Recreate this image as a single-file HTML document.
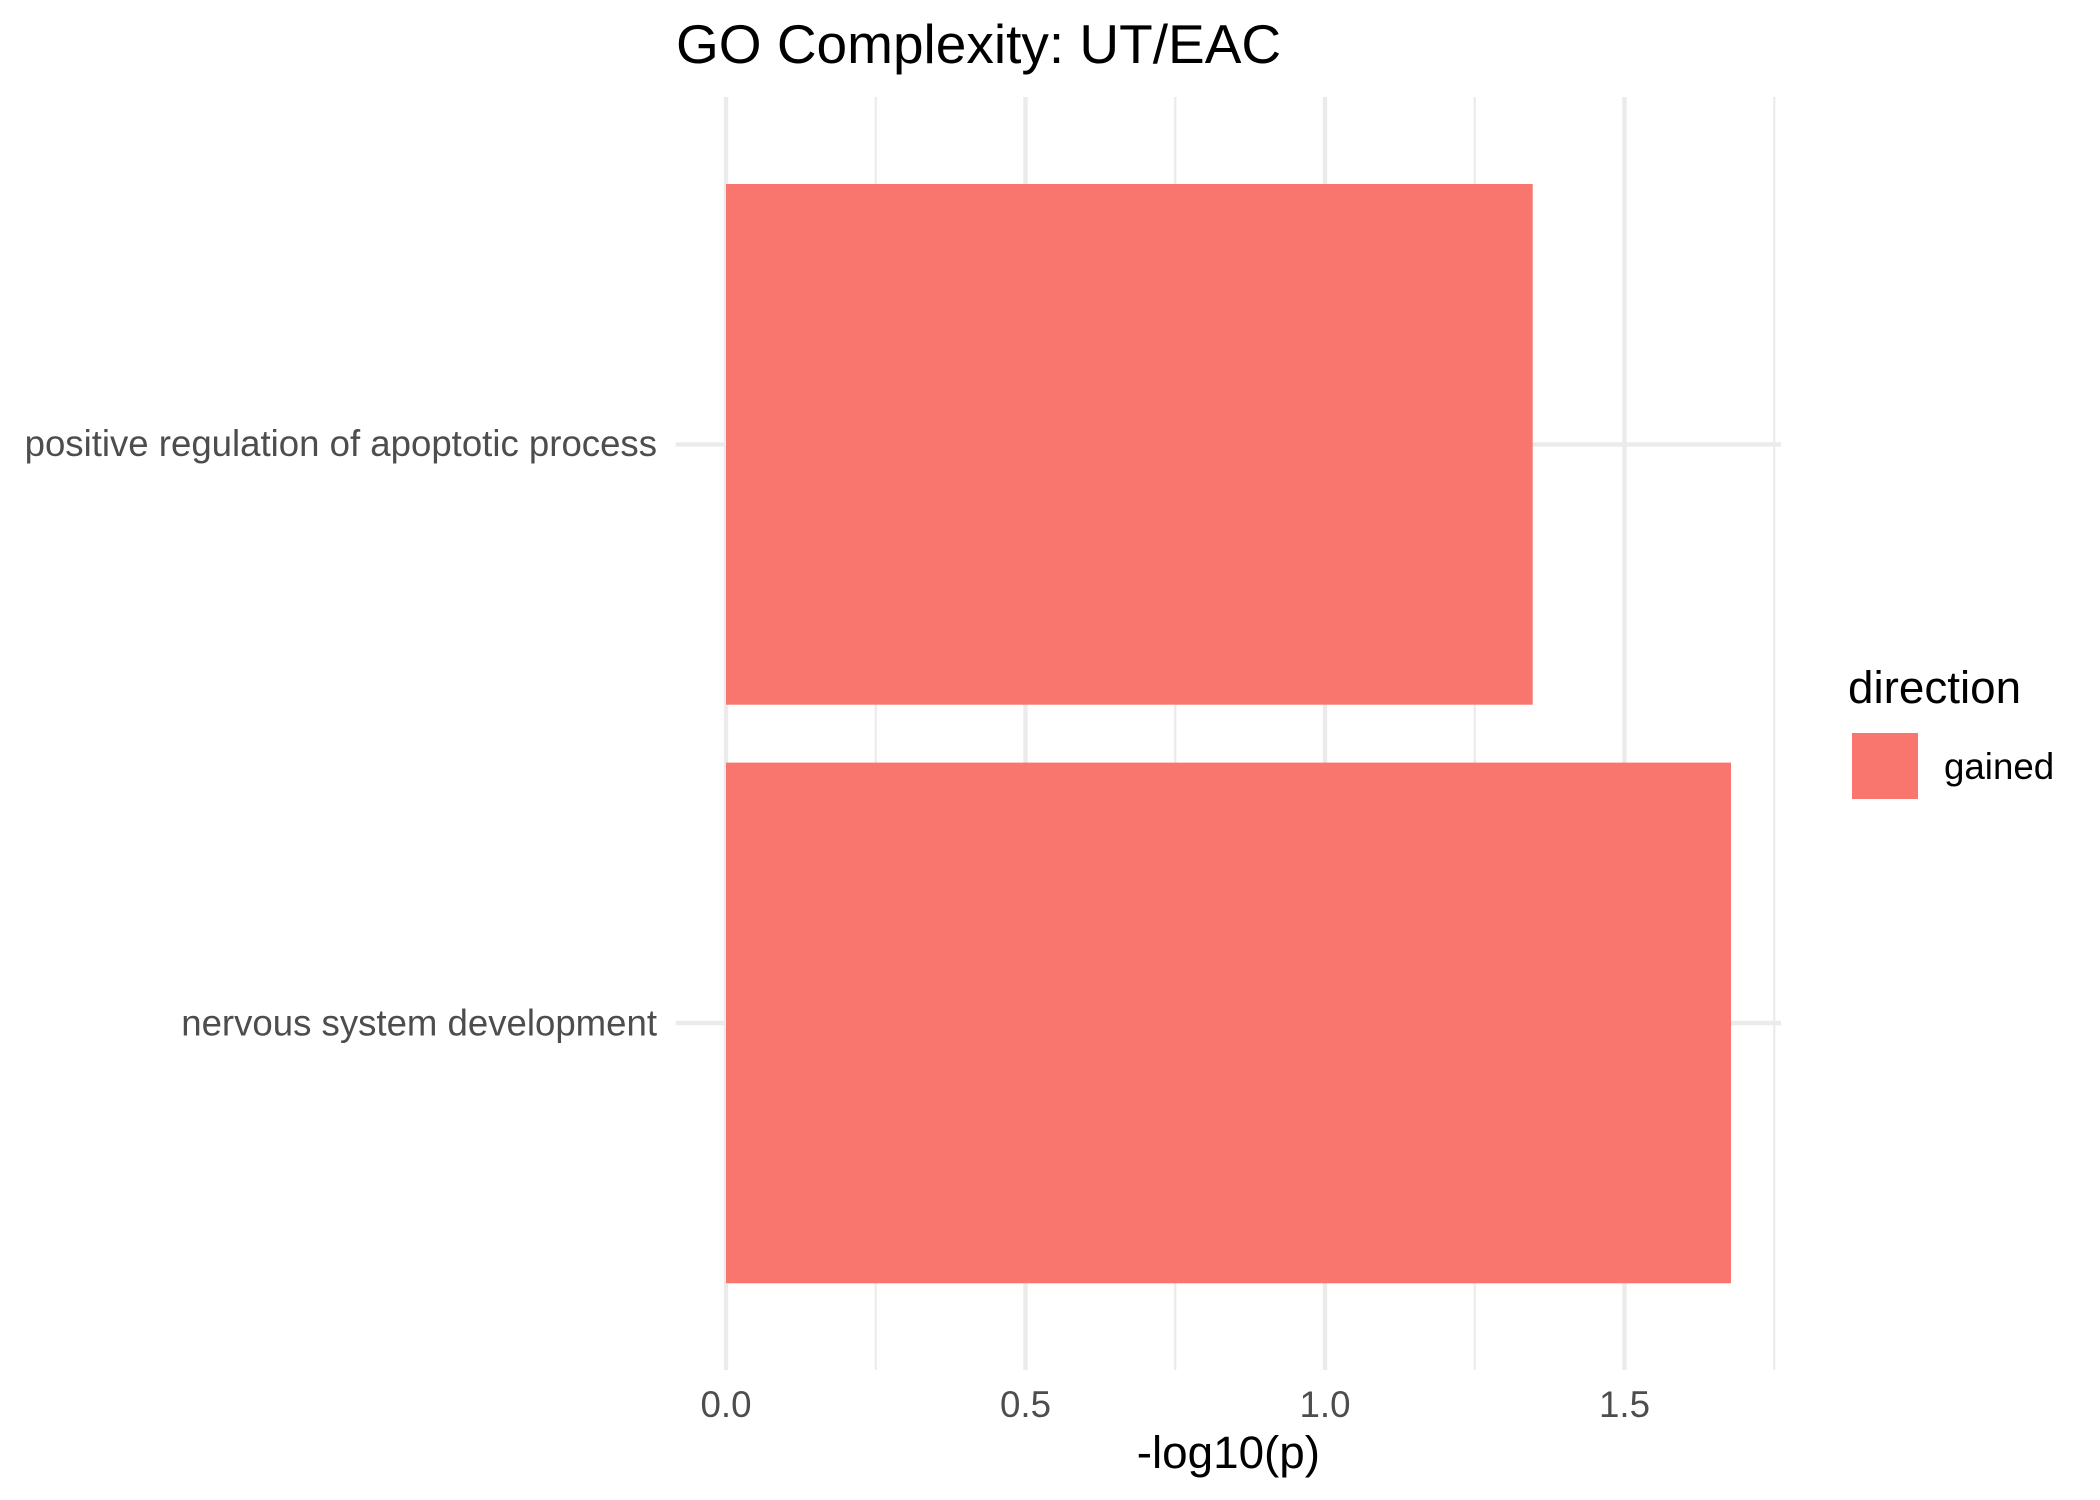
<!DOCTYPE html>
<html>
<head>
<meta charset="utf-8">
<style>
  html, body { margin: 0; padding: 0; background: #ffffff; }
  svg { display: block; }
  text { font-family: "Liberation Sans", Arial, sans-serif; }
</style>
</head>
<body>
<svg width="2100" height="1500" viewBox="0 0 2100 1500" xmlns="http://www.w3.org/2000/svg">
  <rect x="0" y="0" width="2100" height="1500" fill="#ffffff"/>

  <!-- minor vertical gridlines -->
  <g stroke="#EBEBEB" stroke-width="2.2">
    <line x1="875.75" y1="97" x2="875.75" y2="1370"/>
    <line x1="1175.25" y1="97" x2="1175.25" y2="1370"/>
    <line x1="1474.75" y1="97" x2="1474.75" y2="1370"/>
    <line x1="1774.25" y1="97" x2="1774.25" y2="1370"/>
  </g>
  <!-- major vertical gridlines -->
  <g stroke="#EBEBEB" stroke-width="4.4">
    <line x1="726" y1="97" x2="726" y2="1370"/>
    <line x1="1025.5" y1="97" x2="1025.5" y2="1370"/>
    <line x1="1325" y1="97" x2="1325" y2="1370"/>
    <line x1="1624.5" y1="97" x2="1624.5" y2="1370"/>
  </g>
  <!-- major horizontal gridlines -->
  <g stroke="#EBEBEB" stroke-width="4.4">
    <line x1="675.7" y1="444.4" x2="1781" y2="444.4"/>
    <line x1="675.7" y1="1023" x2="1781" y2="1023"/>
  </g>

  <!-- bars -->
  <rect x="726" y="184" width="806.7" height="520.7" fill="#F8766D"/>
  <rect x="726" y="762.6" width="1005" height="520.7" fill="#F8766D"/>

  <!-- title -->
  <text x="676" y="63" font-size="55" fill="#000000">GO Complexity: UT/EAC</text>

  <!-- y axis labels -->
  <g font-size="36.6" fill="#4D4D4D" text-anchor="end">
    <text x="657" y="456">positive regulation of apoptotic process</text>
    <text x="657" y="1035.5">nervous system development</text>
  </g>

  <!-- x axis labels -->
  <g font-size="36.7" fill="#4D4D4D" text-anchor="middle">
    <text x="726" y="1417">0.0</text>
    <text x="1025.5" y="1417">0.5</text>
    <text x="1325" y="1417">1.0</text>
    <text x="1624.5" y="1417">1.5</text>
  </g>

  <!-- x axis title -->
  <text x="1228.4" y="1468" font-size="45.8" fill="#000000" text-anchor="middle">-log10(p)</text>

  <!-- legend -->
  <text x="1848" y="703" font-size="45.8" fill="#000000">direction</text>
  <rect x="1852" y="733" width="66" height="66" fill="#F8766D"/>
  <text x="1944" y="779" font-size="36.7" fill="#000000">gained</text>
</svg>
</body>
</html>
